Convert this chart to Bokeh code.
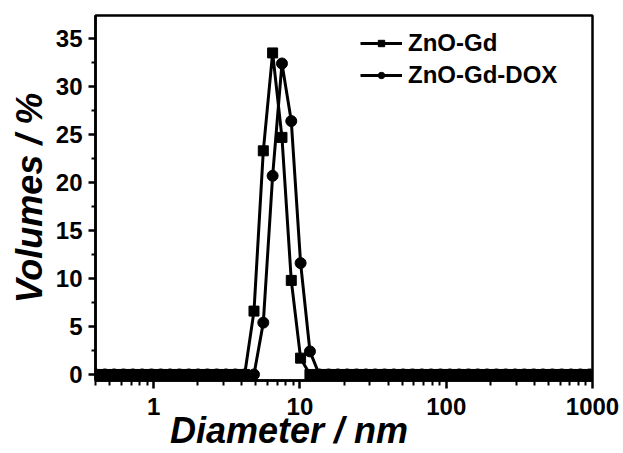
from bokeh.plotting import figure
from bokeh.models import Range1d, FixedTicker, Legend, LegendItem
from bokeh.embed import file_html
from bokeh.resources import INLINE

# Size classes (nm)
diameter_nm = [0.400, 0.4632, 0.5365, 0.6213, 0.7195, 0.8332, 0.9649, 1.117, 1.294, 1.499,
               1.736, 2.010, 2.328, 2.696, 3.122, 3.615, 4.187, 4.849, 5.615, 6.503,
               7.531, 8.721, 10.10, 11.70, 13.54, 15.69, 18.17, 21.04, 24.36, 28.21,
               32.67, 37.84, 43.82, 50.75, 58.77, 68.06, 78.82, 91.28, 105.7, 122.4,
               141.8, 164.2, 190.1, 220.2, 255.0, 295.3, 342.0, 396.1, 458.7, 531.2,
               615.1, 712.4, 825.0, 955.4, 1106]

zno_gd = [0, 0, 0, 0, 0, 0, 0, 0, 0, 0,
          0, 0, 0, 0, 0, 0, 0, 6.6, 23.3, 33.5,
          24.7, 9.8, 1.7, 0, 0, 0, 0, 0, 0, 0,
          0, 0, 0, 0, 0, 0, 0, 0, 0, 0,
          0, 0, 0, 0, 0, 0, 0, 0, 0, 0,
          0, 0, 0, 0, 0]

zno_gd_dox = [0, 0, 0, 0, 0, 0, 0, 0, 0, 0,
              0, 0, 0, 0, 0, 0, 0, 0, 5.4, 20.7,
              32.4, 26.4, 11.6, 2.4, 0, 0, 0, 0, 0, 0,
              0, 0, 0, 0, 0, 0, 0, 0, 0, 0,
              0, 0, 0, 0, 0, 0, 0, 0, 0, 0,
              0, 0, 0, 0, 0]

x_major_ticks = [1, 10, 100, 1000]
x_tick_labels = {1: "1", 10: "10", 100: "100", 1000: "1000"}
x_minor_ticks = [0.4, 0.5, 0.6, 0.7, 0.8, 0.9,
                 2, 3, 4, 5, 6, 7, 8, 9,
                 20, 30, 40, 50, 60, 70, 80, 90,
                 200, 300, 400, 500, 600, 700, 800, 900]
y_major_ticks = [0, 5, 10, 15, 20, 25, 30, 35]
y_minor_ticks = [2.5, 7.5, 12.5, 17.5, 22.5, 27.5, 32.5]

x_title = "Diameter / nm"
y_title = "Volumes / %"
series_names = ["ZnO-Gd", "ZnO-Gd-DOX"]

FONT = "Liberation Sans"
NAN = float("nan")
NBSP = "\u00a0"

p = figure(width=623, height=453, x_axis_type="log",
           x_range=Range1d(0.4, 1000), y_range=Range1d(-0.63, 37.4),
           output_backend="svg", toolbar_location=None, title=None,
           min_border_left=95, min_border_right=31, min_border_top=15, min_border_bottom=73)
p.grid.visible = False
p.outline_line_color = "black"
p.outline_line_width = 2.5
p.background_fill_color = "white"
p.border_fill_color = "white"

for ax in (p.xaxis[0], p.yaxis[0]):
    ax.axis_line_width = 2.5
    ax.major_tick_line_width = 2.5
    ax.minor_tick_line_width = 2
    ax.major_tick_in = 0
    ax.minor_tick_in = 0
    ax.major_label_text_font = FONT
    ax.major_label_text_font_size = "24px"
    ax.major_label_text_font_style = "bold"
    ax.major_label_text_color = "black"
    ax.axis_line_color = "black"
    ax.major_tick_line_color = "black"
    ax.minor_tick_line_color = "black"
    ax.axis_label_text_font = FONT
    ax.axis_label_text_font_size = "36px"
    ax.axis_label_text_font_style = "bold italic"
    ax.axis_label_text_color = "black"

xa = p.xaxis[0]
xa.ticker = FixedTicker(ticks=x_major_ticks, minor_ticks=x_minor_ticks)
xa.major_label_overrides = x_tick_labels
xa.major_tick_out = 8
xa.minor_tick_out = 5
xa.major_label_standoff = 9
# trailing no-break spaces shift the centred title to the left, as in the reference
xa.axis_label = x_title + NBSP * 11
xa.axis_label_standoff = -8

ya = p.yaxis[0]
ya.ticker = FixedTicker(ticks=y_major_ticks, minor_ticks=y_minor_ticks)
ya.major_tick_out = 7
ya.minor_tick_out = 4
ya.major_label_standoff = 6
ya.axis_label = y_title
ya.axis_label_standoff = 3

# data
p.line(diameter_nm, zno_gd, line_width=3, color="black")
p.scatter(diameter_nm, zno_gd, marker="square", size=10, color="black")
p.line(diameter_nm, zno_gd_dox, line_width=3, color="black")
p.scatter(diameter_nm, zno_gd_dox, marker="circle", size=11, color="black")

# legend proxies (no visible data)
l1 = p.line([NAN], [NAN], line_width=3, color="black")
m1 = p.scatter([NAN], [NAN], marker="square", size=7, color="black")
l2 = p.line([NAN], [NAN], line_width=3, color="black")
m2 = p.scatter([NAN], [NAN], marker="circle", size=8, color="black")
legend = Legend(items=[LegendItem(label=series_names[0], renderers=[l1, m1]),
                       LegendItem(label=series_names[1], renderers=[l2, m2])],
                location=(265, 291), glyph_width=42, glyph_height=16, label_height=28,
                label_standoff=6, spacing=4, padding=0, margin=0,
                border_line_color=None, background_fill_alpha=0,
                label_text_font=FONT, label_text_font_size="24px",
                label_text_font_style="bold", label_text_color="black")
p.add_layout(legend)

open("out.html", "w").write(file_html(p, INLINE))
